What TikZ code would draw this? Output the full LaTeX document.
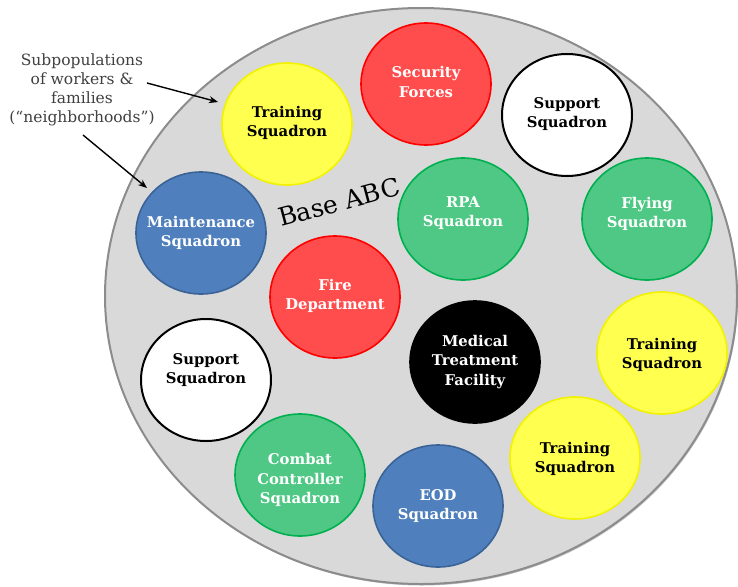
\documentclass[tikz,border=0pt]{standalone}
\usepackage{fontspec}
\setmainfont{DejaVu Serif}
\usetikzlibrary{shapes.geometric,arrows.meta}
\definecolor{basefill}{HTML}{D9D9D9}
\definecolor{baseline}{HTML}{8C8C8C}
\definecolor{yelfill}{HTML}{FFFF50}
\definecolor{yelline}{HTML}{F2F200}
\definecolor{redfill}{HTML}{FF4D4D}
\definecolor{redline}{HTML}{FF0000}
\definecolor{grnfill}{HTML}{4EC884}
\definecolor{grnline}{HTML}{00B050}
\definecolor{blufill}{HTML}{4F7FBC}
\definecolor{bluline}{HTML}{3A6396}
\definecolor{lbltext}{HTML}{404040}
\tikzset{
  disc/.style={ellipse, minimum width=130pt, minimum height=122pt, inner sep=0pt, line width=1.6pt},
  yel/.style={disc, fill=yelfill, draw=yelline},
  red/.style={disc, fill=redfill, draw=redline},
  grn/.style={disc, fill=grnfill, draw=grnline},
  blu/.style={disc, fill=blufill, draw=bluline},
  wht/.style={disc, fill=white, draw=black, line width=2pt},
  blk/.style={disc, fill=black, draw=black},
  dtxt/.style={align=center, font=\fontsize{14.8}{19.5}\selectfont\bfseries, inner sep=0pt},
  dark/.style={dtxt, text=black},
  light/.style={dtxt, text=white},
  note/.style={align=center, text=lbltext, font=\fontsize{15.5}{19}\selectfont, inner sep=0pt},
  pointer/.style={draw=black, line width=1.4pt, -{Stealth[length=9pt,width=7pt]}}
}
\begin{document}
\begin{tikzpicture}[x=1pt,y=-1pt]
\useasboundingbox (0,0) rectangle (738,586);
% base
\fill[black!25] (422,297.5) ellipse [x radius=316pt, y radius=288pt];
\node[ellipse, minimum width=632pt, minimum height=576pt, fill=basefill, draw=baseline, line width=2pt] (base) at (421,296) {};
\node[rotate=15, font=\fontsize{25}{28}\selectfont, inner sep=0pt] (basetxt) at (339,202) {Base ABC};
% discs
\node[yel] (trainA) at (287,124) {};
\node[dark] at (287,123) {Training\\Squadron};
\node[red] (secur) at (426,84) {};
\node[light] at (426,82) {Security\\Forces};
\node[wht] (suppA) at (567,115) {};
\node[dark] at (567,114) {Support\\Squadron};
\node[blu] (maint) at (201,233) {};
\node[light] at (201,233) {Maintenance\\Squadron};
\node[grn] (rpa) at (463,219) {};
\node[light] at (463,213) {RPA\\Squadron};
\node[grn] (fly) at (647,219) {};
\node[light] at (647,214) {Flying\\Squadron};
\node[red] (fire) at (335,297) {};
\node[light] at (335,296) {Fire\\Department};
\node[blk] (med) at (475,362) {};
\node[light] at (475,362) {Medical\\Treatment\\Facility};
\node[wht] (suppB) at (206,380) {};
\node[dark] at (206,370) {Support\\Squadron};
\node[yel] (trainB) at (662,353) {};
\node[dark] at (662,355) {Training\\Squadron};
\node[yel] (trainC) at (575,458) {};
\node[dark] at (575,459) {Training\\Squadron};
\node[grn] (combat) at (300,475) {};
\node[light] at (300,480) {Combat\\Controller\\Squadron};
\node[blu] (eod) at (438,506) {};
\node[light] at (438,506) {EOD\\Squadron};
% note and arrows
\node[note] (note) at (82,90) {Subpopulations\\of workers \&\\families\\(“neighborhoods”)};
\coordinate (n1) at (147,83);
\coordinate (n2) at (83,135);
\coordinate (t1) at (218,102);
\coordinate (t2) at (147,188);
\draw[pointer] (n1) -- (t1);
\draw[pointer] (n2) -- (t2);
\end{tikzpicture}
\end{document}
